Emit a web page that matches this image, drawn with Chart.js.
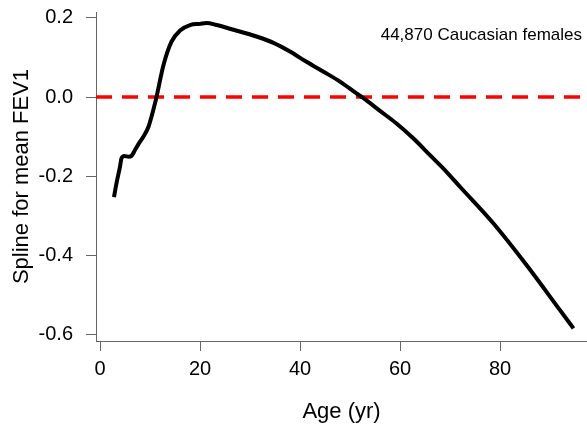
<!DOCTYPE html>
<html>
<head>
<meta charset="utf-8">
<script src="https://cdn.jsdelivr.net/npm/chart.js@4"></script>
<style>
  body { margin: 0; background: #fff; }
  canvas { display: block; }
</style>
</head>
<body>
<canvas id="splineChart" width="587" height="425"></canvas>
<script>
// Values
const ages = [2.8, 3.3, 4, 4.3, 4.9, 5.7, 6.3, 7, 8, 8.7, 9.7, 10.3, 11, 11.3, 12.7, 14.3, 16, 18, 20, 21.3,
  23.3, 26.7, 31.3, 34.7, 38, 41.3, 44.7, 48, 51.3, 52.7, 56, 59.3, 62.7, 66, 69.3, 72, 78.7, 85.3, 92, 94.7];
const splineFEV1 = [-0.253, -0.218, -0.176, -0.155, -0.149, -0.151, -0.149, -0.134, -0.113, -0.1, -0.075, -0.05,
  -0.016, 0, 0.081, 0.14, 0.168, 0.182, 0.185, 0.187, 0.182, 0.17, 0.153, 0.137, 0.115, 0.089, 0.064, 0.039,
  0.009, -0.003, -0.035, -0.067, -0.105, -0.147, -0.189, -0.227, -0.32, -0.425, -0.539, -0.585];
const xTicks = [0, 20, 40, 60, 80];
const yTicks = [0.2, 0.0, -0.2, -0.4, -0.6];
const xRange = [-0.8, 97.4];
const yRange = [-0.617, 0.215];
const refLevel = 0;
const note = '44,870 Caucasian females';

const FONT = "'Liberation Sans', Arial, sans-serif";

// text in the upper right corner
const notePlugin = {
    id: 'note',
    afterDraw(chart) {
        const ctx = chart.ctx;
        const area = chart.chartArea;
        ctx.save();
        ctx.font = '17px ' + FONT;
        ctx.fillStyle = '#000';
        ctx.textAlign = 'right';
        ctx.textBaseline = 'middle';
        ctx.fillText(note, area.right - 5, area.top + 23);
        ctx.restore();
    }
};

const ctx = document.getElementById('splineChart').getContext('2d');
const splineChart = new Chart(ctx, {
    type: 'line',
    data: {
        datasets: [{
            data: ages.map((a, i) => ({ x: a, y: splineFEV1[i] })),
            borderColor: '#000',
            borderWidth: 4,
            pointRadius: 0,
            cubicInterpolationMode: 'monotone',
            fill: false,
        }, {
            data: xRange.map(x => ({ x: x, y: refLevel })),
            borderColor: '#f00',
            borderWidth: 3.5,
            borderDash: [16, 10],
            pointRadius: 0,
            fill: false,
        }]
    },
    options: {
        responsive: false,
        animation: false,
        layout: { padding: { top: 12, right: 0, left: 0, bottom: 0 } },
        plugins: {
            legend: { display: false },
            tooltip: { enabled: false }
        },
        scales: {
            x: {
                type: 'linear',
                min: xRange[0],
                max: xRange[1],
                afterBuildTicks: s => { s.ticks = xTicks.map(v => ({ value: v })); },
                afterFit: s => { s.height = 84; s.paddingLeft = 0; s.paddingRight = 0; },
                border: { color: '#666', width: 1 },
                grid: { drawOnChartArea: false, drawTicks: true, tickLength: 10, color: '#666' },
                ticks: {
                    color: '#000',
                    font: { family: FONT, size: 20 },
                    padding: 6,
                    maxRotation: 0,
                    callback: v => String(v)
                },
                title: {
                    display: true,
                    text: 'Age (yr)',
                    color: '#000',
                    font: { family: FONT, size: 22 },
                    padding: { top: 0, bottom: 0 }
                }
            },
            y: {
                min: yRange[0],
                max: yRange[1],
                afterBuildTicks: s => { s.ticks = yTicks.map(v => ({ value: v })); },
                afterFit: s => { s.width = 96; s.paddingTop = 0; s.paddingBottom = 0; },
                border: { color: '#666', width: 1 },
                grid: { drawOnChartArea: false, drawTicks: true, tickLength: 10, color: '#666' },
                ticks: {
                    color: '#000',
                    font: { family: FONT, size: 20 },
                    padding: 13,
                    callback: v => v.toFixed(1)
                },
                title: {
                    display: true,
                    text: 'Spline for mean FEV1',
                    color: '#000',
                    font: { family: FONT, size: 22 },
                    padding: { top: 9, bottom: 0 }
                }
            }
        }
    },
    plugins: [notePlugin]
});
</script>
</body>
</html>
